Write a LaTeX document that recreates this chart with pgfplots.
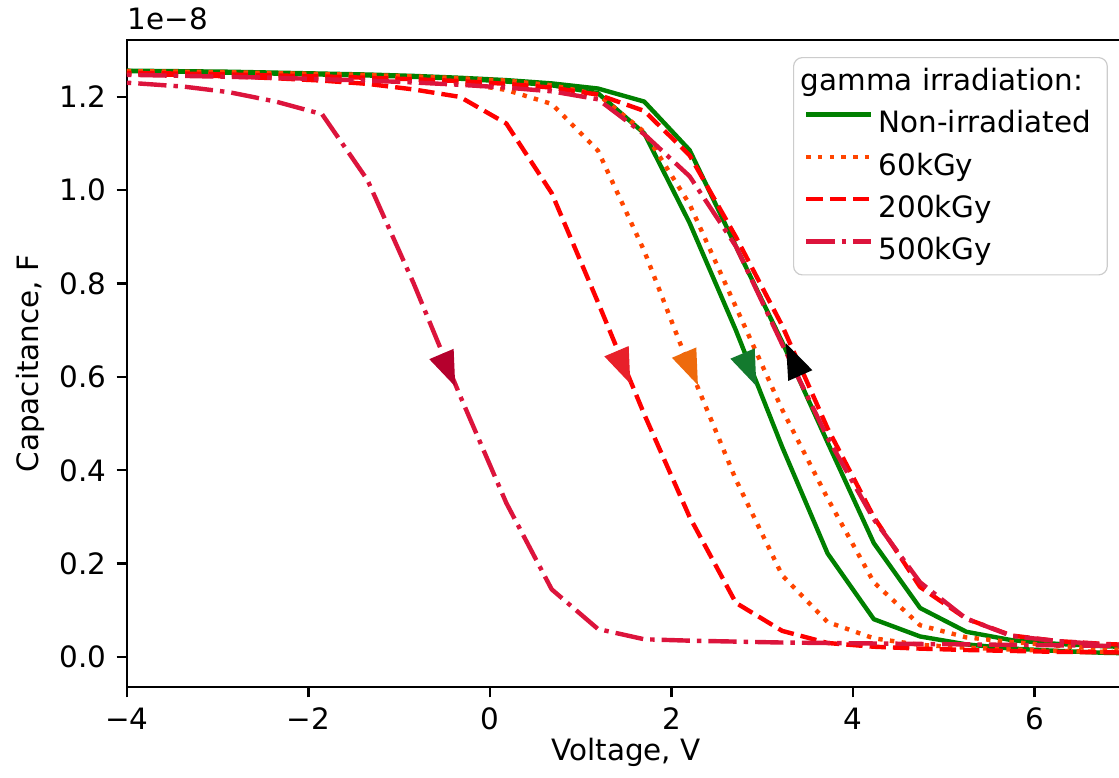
\documentclass[border=0pt]{standalone}
\usepackage{fontspec}
\setmainfont{DejaVu Sans}
\usepackage{pgfplots}
\usepackage{pgfplotstable}
\pgfplotsset{compat=1.18}

\definecolor{cgreen}{HTML}{008000}
\definecolor{corange}{HTML}{FF4500}
\definecolor{cred}{HTML}{FF0000}
\definecolor{ccrimson}{HTML}{DC143C}
\definecolor{agreen}{HTML}{137A2E}
\definecolor{aorange}{HTML}{EE6A0C}
\definecolor{ared}{HTML}{E8202A}
\definecolor{acrimson}{HTML}{B5002D}

% arrow head, centroid at origin, pointing up
\pgfdeclareplotmark{arrowhead}{%
  \pgfpathmoveto{\pgfqpoint{0pt}{8pt}}%
  \pgfpathlineto{\pgfqpoint{-4.5pt}{-4pt}}%
  \pgfpathlineto{\pgfqpoint{4.5pt}{-4pt}}%
  \pgfpathclose
  \pgfusepathqfill}

% voltage, then down / up sweep of each dose (capacitance in 1e-8 F)
\pgfplotstableread{
V     d0    u0    d60   u60   d200  u200  d500  u500
-4.39 1.256 1.257 1.255 1.256 1.250 1.252 1.235 1.248
-3.88 1.255 1.256 1.254 1.255 1.249 1.251 1.229 1.247
-3.37 1.254 1.255 1.253 1.254 1.247 1.250 1.222 1.245
-2.87 1.252 1.254 1.251 1.253 1.244 1.248 1.210 1.243
-2.36 1.250 1.252 1.249 1.251 1.240 1.246 1.190 1.241
-1.85 1.248 1.250 1.246 1.249 1.235 1.244 1.163 1.238
-1.35 1.246 1.248 1.243 1.247 1.228 1.241 1.022 1.235
-0.84 1.243 1.245 1.238 1.244 1.216 1.238 0.800 1.231
-0.33 1.239 1.241 1.230 1.240 1.200 1.234 0.560 1.226
0.18  1.233 1.236 1.215 1.235 1.143 1.228 0.330 1.220
0.68  1.225 1.229 1.185 1.225 0.994 1.220 0.145 1.212
1.19  1.208 1.218 1.085 1.205 0.760 1.205 0.060 1.195
1.70  1.122 1.190 0.870 1.125 0.520 1.170 0.038 1.120
2.20  0.930 1.086 0.620 0.970 0.300 1.075 0.035 1.030
2.71  0.700 0.880 0.380 0.750 0.116 0.900 0.033 0.880
3.22  0.450 0.675 0.175 0.530 0.056 0.710 0.031 0.670
3.72  0.222 0.460 0.075 0.340 0.030 0.490 0.030 0.470
4.23  0.081 0.244 0.040 0.160 0.022 0.300 0.029 0.295
4.74  0.044 0.105 0.026 0.068 0.018 0.150 0.028 0.160
5.25  0.027 0.054 0.020 0.042 0.015 0.082 0.027 0.082
5.75  0.018 0.036 0.016 0.032 0.013 0.046 0.026 0.045
6.26  0.013 0.028 0.013 0.024 0.011 0.034 0.025 0.034
6.77  0.009 0.023 0.011 0.017 0.010 0.028 0.024 0.027
7.27  0.007 0.020 0.010 0.013 0.009 0.024 0.023 0.024
}\cvdata

\begin{document}
\begin{tikzpicture}
\begin{axis}[
    name=ax,
    scale only axis,
    width=339.4pt, height=220pt,
    xmin=-4, xmax=7,
    ymin=-0.0643, ymax=1.322,
    xtick={-4,-2,0,2,4,6},
    xticklabels={−4,−2,0,2,4,6},
    ytick={0,0.2,0.4,0.6,0.8,1.0,1.2},
    yticklabels={0.0,0.2,0.4,0.6,0.8,1.0,1.2},
    tick pos=left,
    tick align=outside,
    major tick length=3.5pt,
    tick style={black, line width=0.8pt},
    axis line style={line width=0.8pt},
    every axis x label/.style={at={(axis description cs:0.5,-0.1005)}, anchor=center},
    every axis y label/.style={at={(axis description cs:-0.0972,0.5)}, anchor=center, rotate=90},
    xlabel={Voltage, V},
    ylabel={Capacitance, F},
    legend cell align=left,
    legend style={at={(0.9827,0.9737)}, anchor=north east,
        draw=black!20, rounded corners=3pt, fill=white,
        inner xsep=3.6pt, inner ysep=1.6pt, row sep=1.3pt,
        /tikz/every even column/.append style={column sep=6.5pt}},
    legend image code/.code={\draw[#1] (0pt,3.2pt) -- (21.8pt,3.2pt);},
    every axis plot/.append style={line width=1.5pt, line join=round},
]
% direction arrows
\addplot[only marks, mark=arrowhead, color=black, mark options={rotate=24}, forget plot] coordinates {(3.367,0.626)};
\addplot[only marks, mark=arrowhead, color=acrimson, mark options={rotate=-157}, forget plot] coordinates {(-0.484,0.626)};
\addplot[only marks, mark=arrowhead, color=ared, mark options={rotate=-157}, forget plot] coordinates {(1.445,0.632)};
\addplot[only marks, mark=arrowhead, color=aorange, mark options={rotate=-157}, forget plot] coordinates {(2.19,0.629)};
\addplot[only marks, mark=arrowhead, color=agreen, mark options={rotate=-157}, forget plot] coordinates {(2.834,0.627)};

\addlegendimage{empty legend}
\addlegendentry{\hspace*{-26.5pt}gamma irradiation:}

\addplot[cgreen, solid] table[x=V, y=d0] {\cvdata};
\addlegendentry{Non-irradiated}
\addplot[cgreen, solid, forget plot] table[x=V, y=u0] {\cvdata};

\addplot[corange, dash pattern=on 1.5pt off 2.475pt] table[x=V, y=d60] {\cvdata};
\addlegendentry{60kGy}
\addplot[corange, dash pattern=on 1.5pt off 2.475pt, forget plot] table[x=V, y=u60] {\cvdata};

\addplot[cred, dash pattern=on 5.55pt off 2.4pt] table[x=V, y=d200] {\cvdata};
\addlegendentry{200kGy}
\addplot[cred, dash pattern=on 5.55pt off 2.4pt, forget plot] table[x=V, y=u200] {\cvdata};

\addplot[ccrimson, dash pattern=on 9.6pt off 2.4pt on 1.5pt off 2.4pt] table[x=V, y=d500] {\cvdata};
\addlegendentry{500kGy}
\addplot[ccrimson, dash pattern=on 9.6pt off 2.4pt on 1.5pt off 2.4pt, forget plot] table[x=V, y=u500] {\cvdata};
\end{axis}
\node[anchor=base west, inner sep=0pt] at ([yshift=3.4pt]ax.north west) {1e−8};
\pgfresetboundingbox
\useasboundingbox (-43.18pt,-30.6pt) rectangle (337.3pt,233.6pt);
\end{tikzpicture}
\end{document}
